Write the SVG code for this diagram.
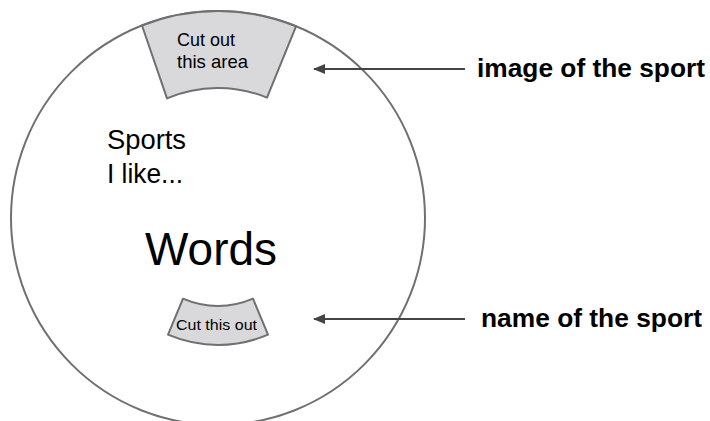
<svg xmlns="http://www.w3.org/2000/svg" width="710" height="421" viewBox="0 0 710 421">
<style>
.ring{fill:#fff;stroke:#707070;stroke-width:2}
.cut{fill:#d9d9db;stroke:#707070;stroke-width:2;stroke-linejoin:round}
text{font-family:"Liberation Sans",Arial,sans-serif;fill:#000}
.lbl{font-weight:bold;font-size:25px}
.conn{stroke:#444;stroke-width:2;fill:none}
</style>
<defs>
<marker id="ah" markerWidth="12" markerHeight="10" refX="11" refY="5" orient="auto" markerUnits="userSpaceOnUse">
<path d="M0,0 L12,5 L0,10 Z" fill="#444"/>
</marker>
</defs>
<g id="circle">
<circle class="ring" cx="218" cy="218" r="207"/>
</g>
<g id="top-cutout">
<path class="cut" d="M142,25.5 A207,207 0 0 1 296,26.3 L267,97.6 A130,130 0 0 0 167,98.4 Z"/>
<text x="177" y="46" font-size="19" textLength="58" lengthAdjust="spacingAndGlyphs">Cut out</text>
<text x="177" y="68" font-size="19" textLength="71" lengthAdjust="spacingAndGlyphs">this area</text>
</g>
<g id="title">
<text x="107" y="149" font-size="27" textLength="79" lengthAdjust="spacingAndGlyphs">Sports</text>
<text x="107" y="183" font-size="27" textLength="76" lengthAdjust="spacingAndGlyphs">I like...</text>
</g>
<g id="words">
<text x="145" y="265" font-size="46" textLength="132" lengthAdjust="spacingAndGlyphs">Words</text>
</g>
<g id="bottom-cutout">
<path class="cut" d="M183,298.7 A88,88 0 0 0 253,298.7 L268,334.7 A127,127 0 0 1 168,334.7 Z"/>
<text x="176" y="330" font-size="15" textLength="81" lengthAdjust="spacingAndGlyphs">Cut this out</text>
</g>
<g id="connectors">
<line class="conn" x1="465" y1="69" x2="314" y2="69" marker-end="url(#ah)"/>
<line class="conn" x1="465" y1="319" x2="314" y2="319" marker-end="url(#ah)"/>
</g>
<g id="label-image">
<text class="lbl" x="477" y="77" textLength="228" lengthAdjust="spacingAndGlyphs">image of the sport</text>
</g>
<g id="label-name">
<text class="lbl" x="481" y="327" textLength="221" lengthAdjust="spacingAndGlyphs">name of the sport</text>
</g>
</svg>
